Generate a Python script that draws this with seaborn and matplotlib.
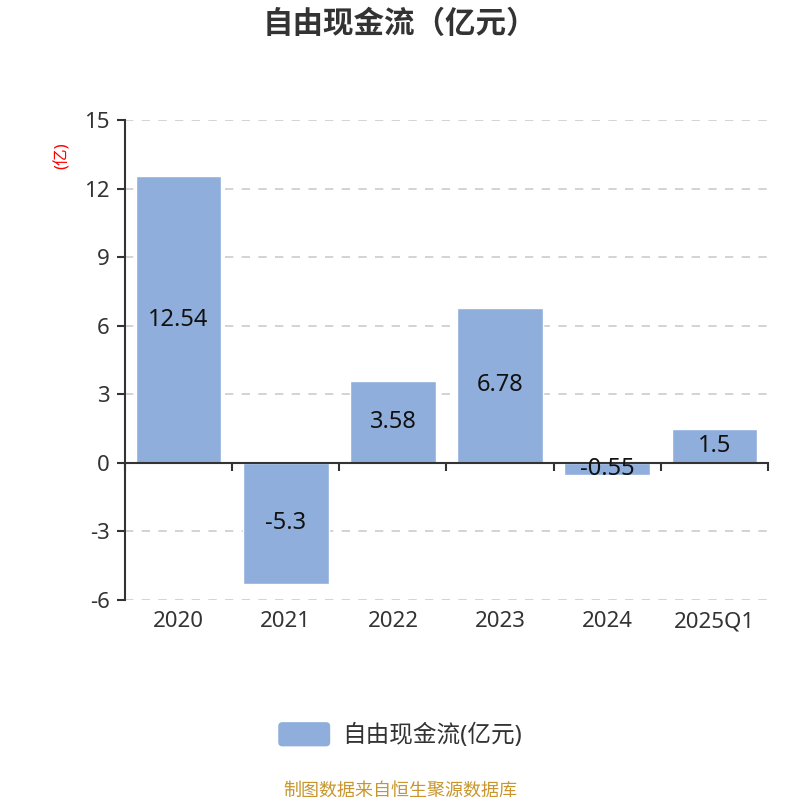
import matplotlib
matplotlib.use("Agg")
import matplotlib.pyplot as plt
import seaborn as sns
import pandas as pd
from matplotlib.patches import Patch, FancyBboxPatch
from matplotlib.legend_handler import HandlerPatch

categories = ["2020", "2021", "2022", "2023", "2024", "2025Q1"]
values = [12.54, -5.3, 3.58, 6.78, -0.55, 1.5]
value_labels = ["12.54", "-5.3", "3.58", "6.78", "-0.55", "1.5"]
yticks = [-6, -3, 0, 3, 6, 9, 12, 15]
series_name = "自由现金流(亿元)"
title = "自由现金流（亿元）"
unit = "(亿)"
footer = "制图数据来自恒生聚源数据库"

sns.set_theme(style="white")
plt.rcParams['font.family'] = ['Noto Sans', 'Noto Sans CJK SC', 'DejaVu Sans']

df = pd.DataFrame({"cat": categories, "val": values})

fig = plt.figure(figsize=(8, 8), dpi=100)
ax = fig.add_axes([0.15625, 0.25, 0.80375, 0.60])
bar_color = "#8FAEDB"
sns.barplot(data=df, x="cat", y="val", color=bar_color, width=0.8,
            saturation=1, ax=ax, errorbar=None)

ax.set_ylim(-6, 15)
ax.set_xlim(-0.5, len(categories) - 0.5)
ax.set_yticks(yticks)
ax.set_yticklabels([str(t) for t in yticks], fontsize=16, color="#333333")
ax.yaxis.grid(True, linestyle=(0, (5, 5)), color="#cccccc", linewidth=1.2)
ax.set_axisbelow(True)
ax.set_xlabel("")
ax.set_ylabel("")

for s in ["top", "right"]:
    ax.spines[s].set_visible(False)
ax.spines["left"].set_color("#333333")
ax.spines["left"].set_linewidth(1.5)
ax.spines["bottom"].set_position(("data", 0))
ax.spines["bottom"].set_color("#333333")
ax.spines["bottom"].set_linewidth(1.5)
ax.tick_params(axis="y", which="major", length=6, width=1.5, color="#333333",
               left=True, pad=5)

# x axis at zero: tick marks at band boundaries, no labels
ax.set_xticks([i - 0.5 for i in range(len(categories) + 1)])
ax.set_xticklabels([])
ax.tick_params(axis="x", which="major", length=6, width=1.5, color="#333333",
               bottom=True, direction="out")

# category labels at the bottom of the axes
sec = ax.secondary_xaxis(0)
sec.set_xticks(range(len(categories)))
sec.set_xticklabels(categories, fontsize=16, color="#333333")
sec.tick_params(length=0, pad=8)
sec.spines["bottom"].set_visible(False)

ax.bar_label(ax.containers[0], labels=value_labels, label_type="center",
             fontsize=17, color="#111111")

fig.text(0.5, 0.969, title, ha="center", va="center", fontsize=22,
         fontweight="bold", color="#333333")
fig.text(0.078, 0.806, unit, ha="center", va="center", rotation=90,
         fontsize=12, color="red")


class RoundHandler(HandlerPatch):
    def create_artists(self, legend, orig_handle, xdescent, ydescent,
                       width, height, fontsize, trans):
        p = FancyBboxPatch((-xdescent + 3, -ydescent + 3), width - 6, height - 6,
                           boxstyle="round,pad=3", facecolor=bar_color,
                           edgecolor="none", transform=trans)
        return [p]


h = Patch(facecolor=bar_color, edgecolor="none", label=series_name)
leg = fig.legend(handles=[h], loc="center", bbox_to_anchor=(0.5, 0.081),
                 frameon=False, fontsize=17, handlelength=2.2,
                 handleheight=1.2, labelcolor="#333333", handletextpad=0.5,
                 handler_map={Patch: RoundHandler()})

fig.text(0.5, 0.012, footer, ha="center", va="center", fontsize=13,
         color="#C8962D")

fig.savefig("out.png", dpi=100)
